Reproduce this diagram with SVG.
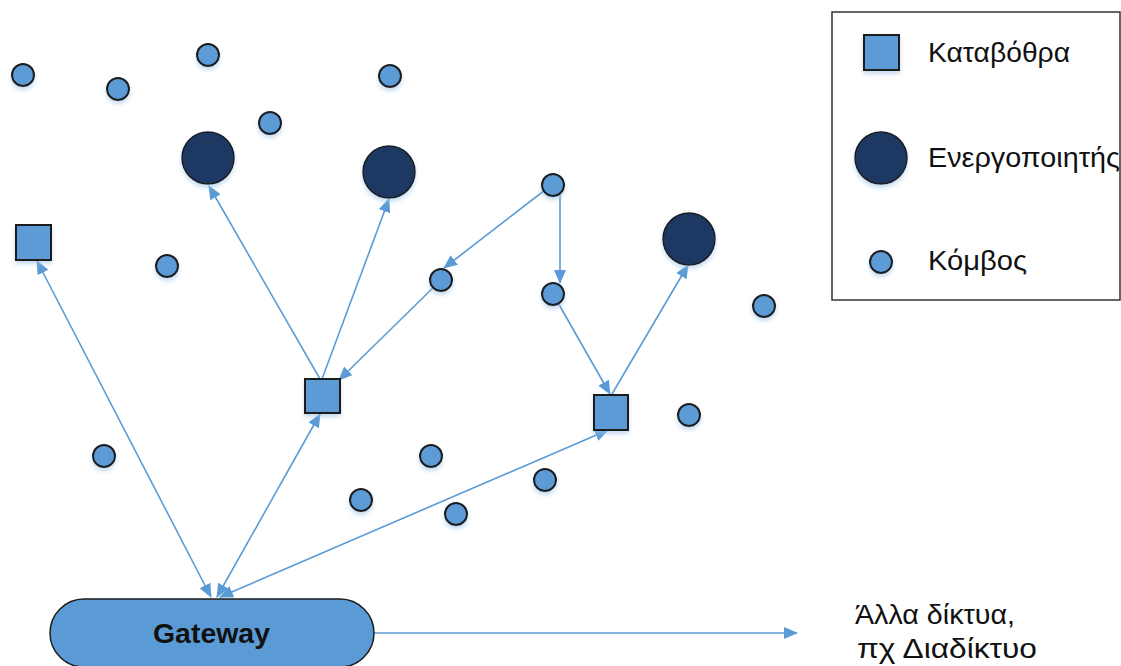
<svg xmlns="http://www.w3.org/2000/svg" width="1121" height="666" viewBox="0 0 1121 666">
  <defs>
    <marker id="arrow" viewBox="0 0 14 12" refX="13" refY="6" markerWidth="14" markerHeight="12" markerUnits="userSpaceOnUse" orient="auto-start-reverse">
      <path d="M0,0 L14,6 L0,12 Z" fill="#5b9bd5"/>
    </marker>
    <filter id="glow" x="-50%" y="-50%" width="200%" height="200%">
      <feDropShadow dx="0" dy="3" stdDeviation="2" flood-color="#9dc3e6" flood-opacity="0.6"/>
    </filter>
  </defs>
  <style>
    .node { fill: #5b9bd5; stroke: #1c1c1c; stroke-width: 2; filter: url(#glow); }
    .act { fill: #1f3864; stroke: #1c1c1c; stroke-width: 1.5; filter: url(#glow); }
    .sink { fill: #5b9bd5; stroke: #1c1c1c; stroke-width: 2; filter: url(#glow); }
    .link { stroke: #5b9bd5; stroke-width: 1.6; fill: none; }
    .lbl { font-family: "Liberation Sans", Arial, sans-serif; font-size: 28px; fill: #111; }
  </style>
  <rect width="1121" height="666" fill="#ffffff"/>

  <!-- connectors -->
  <g id="connectors">
    <line class="link" x1="37" y1="261" x2="211" y2="597" marker-start="url(#arrow)" marker-end="url(#arrow)"/>
    <line class="link" x1="320" y1="414" x2="217" y2="597" marker-start="url(#arrow)" marker-end="url(#arrow)"/>
    <line class="link" x1="608" y1="430" x2="220" y2="597" marker-start="url(#arrow)" marker-end="url(#arrow)"/>
    <line class="link" x1="320" y1="379" x2="209" y2="186" marker-end="url(#arrow)"/>
    <line class="link" x1="322" y1="379" x2="389" y2="199" marker-end="url(#arrow)"/>
    <line class="link" x1="441" y1="280" x2="339" y2="380" marker-end="url(#arrow)"/>
    <line class="link" x1="545" y1="190" x2="444" y2="268" marker-end="url(#arrow)"/>
    <line class="link" x1="560" y1="185" x2="560" y2="283" marker-end="url(#arrow)"/>
    <line class="link" x1="553" y1="294" x2="610" y2="394" marker-end="url(#arrow)"/>
    <line class="link" x1="612" y1="394" x2="688" y2="265" marker-end="url(#arrow)"/>
    <line class="link" x1="374" y1="633" x2="797" y2="633" marker-end="url(#arrow)"/>
  </g>

  <!-- plain nodes -->
  <g id="nodes">
    <circle class="node" cx="23" cy="75" r="11"/>
    <circle class="node" cx="118" cy="89" r="11"/>
    <circle class="node" cx="208" cy="55" r="11"/>
    <circle class="node" cx="390" cy="76" r="11"/>
    <circle class="node" cx="270" cy="123" r="11"/>
    <circle class="node" cx="167" cy="266" r="11"/>
    <circle class="node" cx="553" cy="185" r="11"/>
    <circle class="node" cx="441" cy="280" r="11"/>
    <circle class="node" cx="553" cy="294" r="11"/>
    <circle class="node" cx="764" cy="306" r="11"/>
    <circle class="node" cx="689" cy="415" r="11"/>
    <circle class="node" cx="104" cy="456" r="11"/>
    <circle class="node" cx="431" cy="456" r="11"/>
    <circle class="node" cx="545" cy="480" r="11"/>
    <circle class="node" cx="361" cy="500" r="11"/>
    <circle class="node" cx="456" cy="514" r="11"/>
  </g>

  <!-- actuators -->
  <g id="actuators">
    <circle class="act" cx="208" cy="158" r="26"/>
    <circle class="act" cx="389" cy="172" r="26"/>
    <circle class="act" cx="689" cy="239" r="26"/>
  </g>

  <!-- sinks -->
  <g id="sinks">
    <rect class="sink" x="16" y="225" width="35" height="35"/>
    <rect class="sink" x="305" y="379" width="35" height="34"/>
    <rect class="sink" x="594" y="395" width="34" height="35"/>
  </g>

  <!-- gateway -->
  <g id="gateway">
    <rect x="50" y="599" width="324" height="68" rx="34" ry="34" fill="#5b9bd5" stroke="#1c1c1c" stroke-width="1.5"/>
    <text x="153" y="643" textLength="117" lengthAdjust="spacingAndGlyphs" font-family="'Liberation Sans', Arial, sans-serif" font-size="27" font-weight="bold" fill="#111">Gateway</text>
  </g>

  <!-- outside networks label -->
  <g id="other-networks">
    <text class="lbl" x="855" y="624" textLength="160" lengthAdjust="spacingAndGlyphs">Άλλα δίκτυα,</text>
    <text class="lbl" x="857" y="658" textLength="180" lengthAdjust="spacingAndGlyphs">πχ Διαδίκτυο</text>
  </g>

  <!-- legend -->
  <g id="legend">
    <rect x="832" y="12" width="288" height="288" fill="#ffffff" stroke="#333" stroke-width="1.5"/>
    <rect class="sink" x="864" y="35" width="35" height="35"/>
    <text class="lbl" x="928" y="62" textLength="142" lengthAdjust="spacingAndGlyphs">Καταβόθρα</text>
    <circle class="act" cx="881" cy="158" r="26"/>
    <text class="lbl" x="928" y="167" textLength="192" lengthAdjust="spacingAndGlyphs">Ενεργοποιητής</text>
    <circle class="node" cx="881" cy="262" r="11"/>
    <text class="lbl" x="928" y="270" textLength="99" lengthAdjust="spacingAndGlyphs">Κόμβος</text>
  </g>
</svg>
